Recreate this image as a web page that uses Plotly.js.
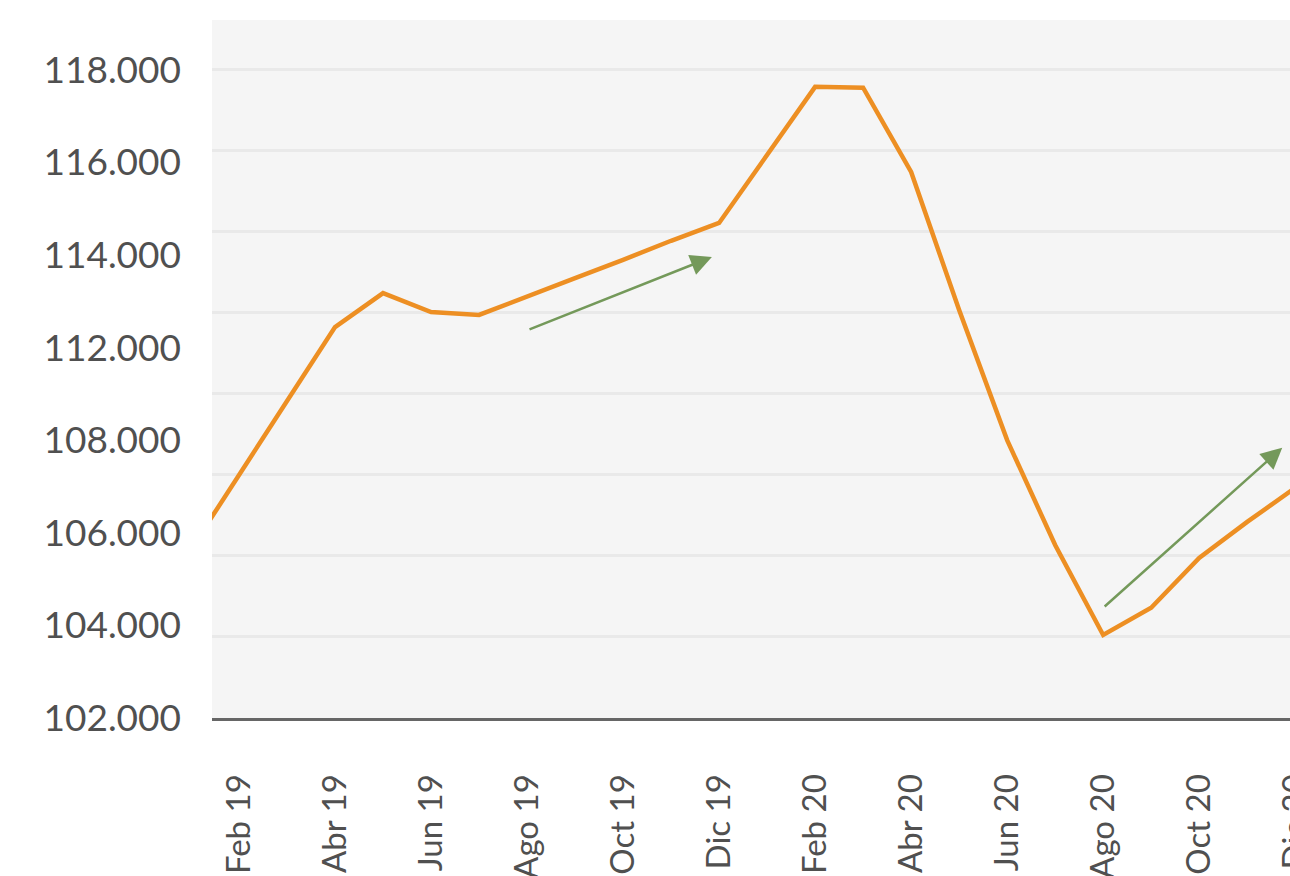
<!DOCTYPE html>
<html>
<head>
<meta charset="utf-8">
<script src="https://cdn.plot.ly/plotly-3.0.1.min.js"></script>
<style>
  html, body { margin: 0; padding: 0; background: #ffffff; overflow: hidden; }
  #chart { width: 1300px; height: 876px; }
</style>
</head>
<body>
<div id="chart"></div>
<script>
// Months (categories)
const months = [
  "Ene 19","Feb 19","Mar 19","Abr 19","May 19","Jun 19","Jul 19","Ago 19","Sep 19","Oct 19","Nov 19","Dic 19",
  "Ene 20","Feb 20","Mar 20","Abr 20","May 20","Jun 20","Jul 20","Ago 20","Sep 20","Oct 20","Nov 20","Dic 20"
];
// Series values
const values = [
  106.17, 108.00, 109.83, 111.65, 112.49, 112.02, 111.95, 112.42, 112.86, 113.31, 113.78, 114.22,
  115.90, 117.58, 117.56, 115.48, 112.07, 108.86, 106.27, 104.05, 104.72, 105.95, 106.84, 107.68
];
// X tick labels shown
const xTickLabels = ["Feb 19","Abr 19","Jun 19","Ago 19","Oct 19","Dic 19","Feb 20","Abr 20","Jun 20","Ago 20","Oct 20","Dic 20"];
// Y tick labels as printed (evenly spaced from bottom to top)
const yTickLabels = ["102.000","104.000","106.000","108.000","112.000","114.000","116.000","118.000"];
const yMin = 102, yMax = 118;
// Trend arrows: [month index, value]
const arrowTail1 = [7.02, 111.58], arrowHead1 = [10.85, 113.38];
const arrowTail2 = [19.0, 104.72], arrowHead2 = [22.73, 108.67];

const yLabelVals = yTickLabels.map((_, k) => yMin + k * (yMax - yMin) / (yTickLabels.length - 1));

const yFont = { family: "Lato, 'Open Sans', sans-serif", size: 37, color: "#505050" };
const xFont = { family: "Lato, 'Open Sans', sans-serif", size: 33, color: "#505050" };

const traces = [
  {
    x: months, y: values, type: "scatter", mode: "lines",
    line: { color: "#ED8F23", width: 4.5 },
    hoverinfo: "skip", showlegend: false, xaxis: "x", yaxis: "y"
  },
  {
    x: [months[0]], y: [yMin], type: "scatter", mode: "none",
    hoverinfo: "skip", showlegend: false, xaxis: "x", yaxis: "y2"
  }
];

function arrow(tail, head) {
  return {
    x: head[0], y: head[1], ax: tail[0], ay: tail[1],
    xref: "x", yref: "y", axref: "x", ayref: "y",
    text: "", showarrow: true, arrowhead: 2, arrowsize: 1.7, arrowwidth: 2.5,
    arrowcolor: "#74995a", standoff: 0, startstandoff: 0
  };
}

const layout = {
  width: 1300, height: 876,
  margin: { l: 212, r: 0, t: 20, b: 158 },
  paper_bgcolor: "#ffffff",
  plot_bgcolor: "#f5f5f5",
  showlegend: false,
  xaxis: {
    type: "category",
    categoryorder: "array", categoryarray: months,
    range: [0.4375, 23.1],
    tickmode: "array", tickvals: xTickLabels, ticktext: xTickLabels,
    tickangle: -90, tickfont: xFont,
    ticks: "", ticklabelstandoff: 40,
    showgrid: false, zeroline: false,
    showline: true, linecolor: "#666666", linewidth: 3
  },
  yaxis: {
    range: [yMin, 119.23],
    dtick: 2, tick0: yMin,
    showticklabels: false, ticks: "",
    showgrid: true, gridcolor: "#e9e9e9", gridwidth: 3,
    zeroline: false, showline: false
  },
  yaxis2: {
    overlaying: "y", side: "left", anchor: "x",
    range: [yMin, 119.23],
    tickmode: "array", tickvals: yLabelVals, ticktext: yTickLabels,
    tickfont: yFont, ticks: "", ticklabelstandoff: 30,
    showgrid: false, zeroline: false, showline: false
  },
  annotations: [arrow(arrowTail1, arrowHead1), arrow(arrowTail2, arrowHead2)]
};

Plotly.newPlot("chart", traces, layout, { staticPlot: true, displayModeBar: false });
</script>
</body>
</html>
